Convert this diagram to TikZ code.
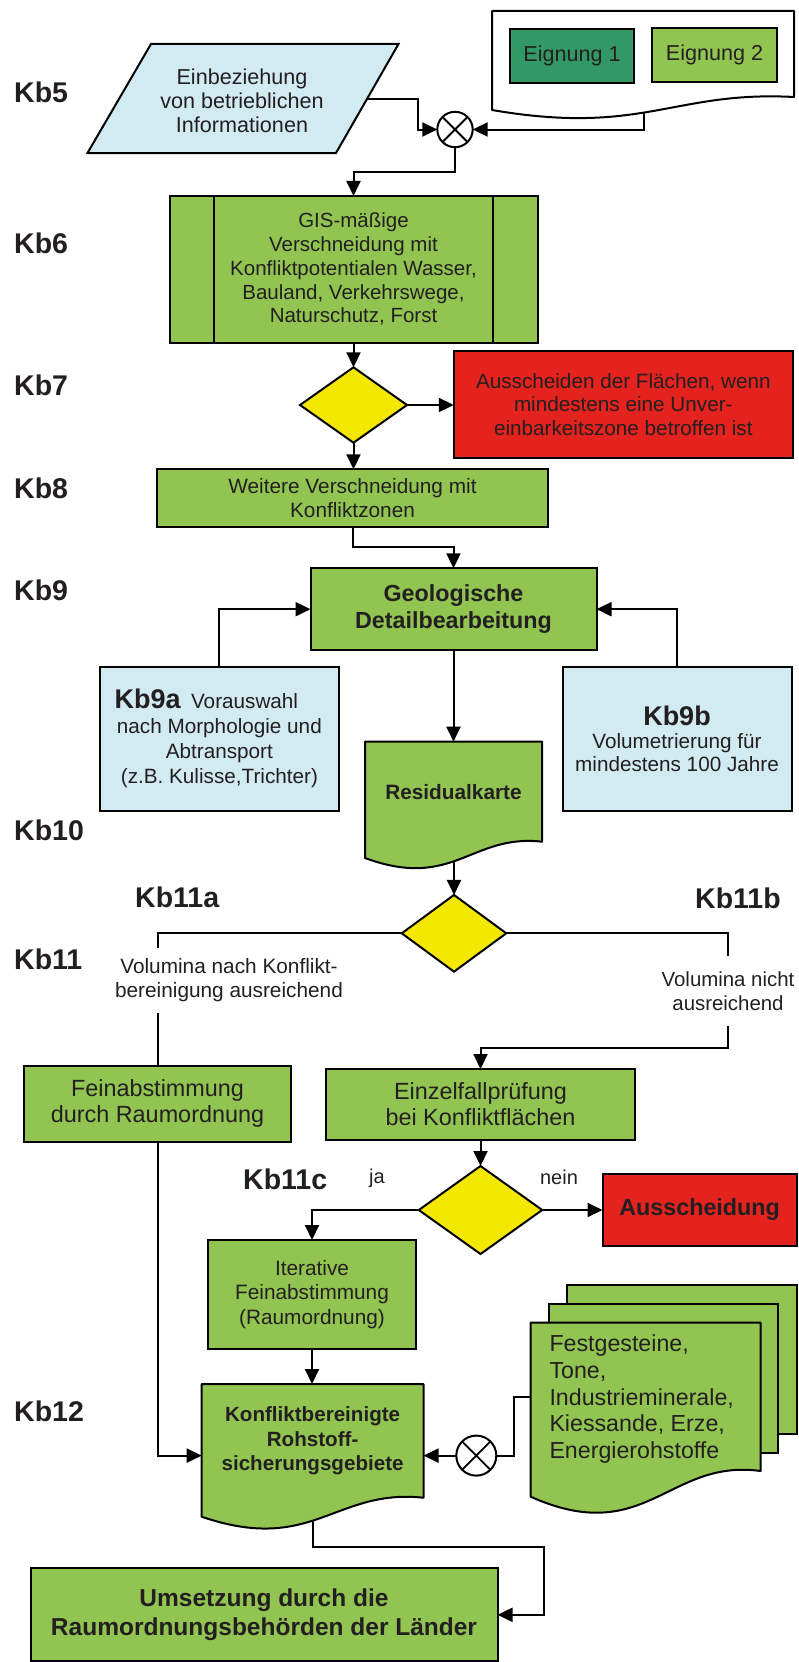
\documentclass[tikz,border=0pt]{standalone}
\usepackage{fontspec}
\setmainfont{Liberation Sans}
\usetikzlibrary{arrows.meta,shapes.geometric,calc}
\pgfdeclarelayer{bg}
\pgfdeclarelayer{mid}
\pgfsetlayers{bg,mid,main}
\definecolor{mygreen}{RGB}{146,196,82}
\definecolor{dgreen}{RGB}{50,153,102}
\definecolor{lblue}{RGB}{210,234,241}
\definecolor{myyellow}{RGB}{245,232,0}
\definecolor{myred}{RGB}{228,34,30}
\definecolor{txt}{RGB}{35,31,32}
\newcommand\szN{\fontsize{20.7}{24}\selectfont}
\newcommand\szS{\fontsize{20.5}{23.75}\selectfont}
\newcommand\szP{\fontsize{21.6}{24.2}\selectfont}
\newcommand\szL{\fontsize{23.4}{26}\selectfont}
\newcommand\szM{\fontsize{23.2}{26.7}\selectfont}
\newcommand\szK{\fontsize{28.5}{32}\selectfont}
\newcommand\szKin{\fontsize{27}{30}\selectfont}
\newcommand\szGeo{\fontsize{23.3}{27.6}\selectfont}
\newcommand\szRes{\fontsize{20.8}{24}\selectfont}
\newcommand\szKonf{\fontsize{20.6}{24.5}\selectfont}
\newcommand\szAus{\fontsize{23.3}{26}\selectfont}
\newcommand\szU{\fontsize{24.5}{28.4}\selectfont}
\newcommand\szJ{\fontsize{20}{24}\selectfont}
% wavy document outline around an (undrawn) node: #1 node, #2 extra drop at left, #3 fill
\newcommand\wavy[3]{%
  \filldraw[line width=2pt, draw=black, fill=#3, line join=round]
    let \p1=(#1.south west), \p2=(#1.north east) in
    (\x1,{\y1-#2pt}) -- (\x1,\y2) -- (\x2,\y2) -- (\x2,\y1)
    .. controls ({\x1+0.6*(\x2-\x1)},{\y1+0.5*#2pt}) and ({\x1+0.5*(\x2-\x1)},{\y1-3*#2pt}) ..
    (\x1,{\y1-#2pt}) -- cycle;}
\begin{document}
\begin{tikzpicture}[x=1pt,y=-1pt,
  box/.style={draw=black, line width=2pt, inner sep=0pt, outer sep=0pt, align=center, text=txt, font=\szN},
  gbox/.style={box, fill=mygreen},
  bbox/.style={box, fill=lblue},
  rbox/.style={box, fill=myred},
  dia/.style={diamond, draw=black, line width=2pt, fill=myyellow, inner sep=0pt, outer sep=0pt},
  mix/.style={circle, draw=black, line width=2pt, fill=white, inner sep=0pt, outer sep=0pt},
  lbl/.style={anchor=west, inner sep=0pt, text=txt, font={\szK\bfseries}},
  doctext/.style={inner sep=0pt, outer sep=0pt, align=center, text=txt},
  gap/.style={fill=white, inner sep=1pt, align=center, text=txt, font=\szN},
  conn/.style={line width=2pt, draw=black},
  arr/.style={conn, -{Triangle[length=15pt,width=14pt]}}
]
\useasboundingbox (0,0) rectangle (798,1662);

% ---------- labels ----------
\node[lbl] (kb5l) at (14,92) {Kb5};
\node[lbl] (kb6l) at (14,243) {Kb6};
\node[lbl] (kb7l) at (14,385) {Kb7};
\node[lbl] (kb8l) at (14,488) {Kb8};
\node[lbl] (kb9l) at (14,590) {Kb9};
\node[lbl] (kb10l) at (14,830.7) {Kb10};
\node[lbl] (kb11l) at (14,959.3) {Kb11};
\node[lbl] (kb11al) at (135,897.3) {Kb11a};
\node[lbl] (kb11bl) at (695,898.3) {Kb11b};
\node[lbl] (kb11cl) at (243,1179.3) {Kb11c};
\node[lbl] (kb12l) at (14,1411) {Kb12};

% ---------- Kb5 ----------
\node[doctext, minimum width=302, minimum height=86] (eig) at (643,54) {};
\node[box, fill=dgreen, minimum width=124, minimum height=54, font=\szP] (eig1) at (572,56) {Eignung 1};
\node[box, fill=mygreen, minimum width=125, minimum height=54, font=\szP] (eig2) at (714.5,55) {Eignung 2};
\node[doctext, font=\szP] (kb5box) at (242,100.5) {Einbeziehung\\von betrieblichen\\Informationen};
\coordinate (pout) at (367,99);
\node[mix, minimum size=35.4] (m1) at (455,129.5) {};
\coordinate (j1) at (418,129.5);
\coordinate (eigout) at (644,100);

% ---------- Kb6 / Kb7 / Kb8 ----------
\node[gbox, minimum width=368, minimum height=146.7, font=\szS] (kb6) at (353.5,269.3)
  {GIS-mäßige\\Verschneidung mit\\Konfliktpotentialen Wasser,\\Bauland, Verkehrswege,\\Naturschutz, Forst};
\draw[line width=2pt] ([xshift=44.5pt]kb6.north west) -- ([xshift=44.5pt]kb6.south west)
  ([xshift=-44.6pt]kb6.north east) -- ([xshift=-44.6pt]kb6.south east);
\node[dia, minimum width=107, minimum height=75.4] (d1) at (353.5,405) {};
\node[rbox, minimum width=339, minimum height=107, font={\fontsize{20.7}{23.8}\selectfont}] (red1) at (623.3,404.5)
  {Ausscheiden der Flächen, wenn\\mindestens eine Unver-\\einbarkeitszone betroffen ist};
\node[gbox, minimum width=391, minimum height=57.4, font={\fontsize{20.8}{24}\selectfont}] (kb8) at (352.5,498)
  {Weitere Verschneidung mit\\Konfliktzonen};

% ---------- Kb9 ----------
\node[gbox, minimum width=286, minimum height=81.7, font={\szGeo\bfseries}] (kb9) at (453.5,609.2)
  {Geologische\\Detailbearbeitung};
\node[bbox, minimum width=238.2, minimum height=144, font={\fontsize{20.7}{25}\selectfont}] (kb9a) at (219.4,738.7)
  {{\szKin\bfseries Kb9a}\enspace Vorauswahl\hspace*{26pt}\\nach Morphologie und\\Abtransport\\(z.B. Kulisse,Trichter)};
\node[bbox, minimum width=229, minimum height=144, font={\fontsize{20.7}{23}\selectfont}] (kb9b) at (677,738.7)
  {{\szKin\bfseries Kb9b}\\Volumetrierung für\\mindestens 100 Jahre};
\node[doctext, minimum width=177, minimum height=100, font={\szRes\bfseries}] (res) at (453.5,791.7) {Residualkarte};

% ---------- Kb11 ----------
\node[dia, minimum width=104.5, minimum height=76.7] (d2) at (454,933.3) {};
\node[gap, minimum height=64.7, font={\fontsize{20.8}{23.4}\selectfont}] (vl) at (229,980.3)
  {Volumina nach Konflikt-\\bereinigung ausreichend};
\node[gap, minimum height=70, font={\fontsize{20.4}{24}\selectfont}] (vr) at (728,991)
  {Volumina nicht\\ausreichend};
\coordinate (j3) at (728,1048.3);
\node[gbox, minimum width=267, minimum height=75.7, font=\szL] (fein) at (157.5,1103.9)
  {Feinabstimmung\\durch Raumordnung};
\node[gbox, minimum width=309.5, minimum height=71, font=\szL] (einz) at (480.5,1104.5)
  {Einzelfallprüfung\\bei Konfliktflächen};
\node[dia, minimum width=123.4, minimum height=88] (d3) at (480.5,1210) {};
\node[doctext, font=\szJ] (ja) at (377,1178.3) {ja};
\node[doctext, font=\szJ] (nein) at (559,1177.3) {nein};
\node[rbox, minimum width=194.2, minimum height=71.7, font={\szAus\bfseries}] (aus) at (699.6,1210) {Ausscheidung};
\node[gbox, minimum width=207.3, minimum height=109, font={\fontsize{20.8}{24.7}\selectfont}] (iter) at (312,1294.5)
  {Iterative\\Feinabstimmung\\(Raumordnung)};

% ---------- Kb12 ----------
\node[doctext, minimum width=221.8, minimum height=113.7, font={\szKonf\bfseries}] (konf) at (312.6,1440.85)
  {Konfliktbereinigte\\Rohstoff-\\sicherungsgebiete};
\coordinate (konfL) at (201.7,1455.6);
\coordinate (konfR) at (423.5,1455.6);
\node[mix, minimum size=40] (m2) at (476.3,1455.6) {};
\node[doctext, minimum width=229.8, minimum height=148.3] (multi) at (645.6,1396.85) {};
\node[anchor=west, inner sep=0pt, align=left, text=txt, font=\szM] (multitxt) at (549.3,1399)
  {Festgesteine,\\Tone,\\Industrieminerale,\\Kiessande, Erze,\\Energierohstoffe};
\node[gbox, minimum width=467, minimum height=93, font={\szU\bfseries}] (ums) at (264,1614.8)
  {Umsetzung durch die\\Raumordnungsbehörden der Länder};
\coordinate (j4) at (544,1614.8);

% crosses in the mixers
\draw[line width=1.8pt] (m1.45) -- (m1.225) (m1.135) -- (m1.315);
\draw[line width=1.8pt] (m2.45) -- (m2.225) (m2.135) -- (m2.315);

% ---------- outlines of special shapes ----------
\begin{pgfonlayer}{mid}
  \wavy{eig}{13}{white}
  \filldraw[line width=2pt, fill=lblue] (151,44) -- (398.5,44) -- (336,153) -- (87.5,153) -- cycle;
  \wavy{res}{16.3}{mygreen}
  \wavy{konf}{19}{mygreen}
  \node[gbox, minimum width=229.4, minimum height=149.3] (mback) at (682,1359.65) {};
  \node[gbox, minimum width=229, minimum height=149] (mmid) at (663.8,1378.8) {};
  \wavy{multi}{25.7}{mygreen}
\end{pgfonlayer}

% ---------- connectors ----------
\begin{pgfonlayer}{bg}
  \draw[arr] (pout) -| (j1) -- (m1.west);
  \draw[arr] (eigout) |- (m1.east);
  \draw[arr] (m1.south) -- ++(0,24.3) -| (kb6.north);
  \draw[arr] (kb6.south) -- (d1.north);
  \draw[arr] (d1.east) -- (d1.east -| red1.west);
  \draw[arr] (d1.south) -- (d1.south |- kb8.north);
  \draw[arr] (kb8.south) -- ++(0,20.6) -| (kb9.north);
  \draw[arr] (kb9a.north) |- (kb9.west);
  \draw[arr] (kb9b.north) |- (kb9.east);
  \draw[arr] (kb9.south) -- (kb9.south |- res.north);
  \draw[arr] (d2.north |- res.south) -- (d2.north);
  \draw[conn] (d2.west) -| (fein.north);
  \draw[arr] (d2.east) -| (j3) -| (einz.north);
  \draw[arr] (fein.south) |- (konfL);
  \draw[arr] (einz.south) -- (d3.north);
  \draw[arr] (d3.east) -- (d3.east -| aus.west);
  \draw[arr] (d3.west) -| (iter.north);
  \draw[arr] (iter.south) -- (iter.south |- konf.north);
  \draw[arr] (m2.west) -- (konfR);
  \draw[conn] (m2.east) -- ++(17.7,0) |- (multi.west);
  \draw[arr] (konf.south) -- ++(0,49) -| (j4) -- (ums.east);
\end{pgfonlayer}
\end{tikzpicture}
\end{document}
